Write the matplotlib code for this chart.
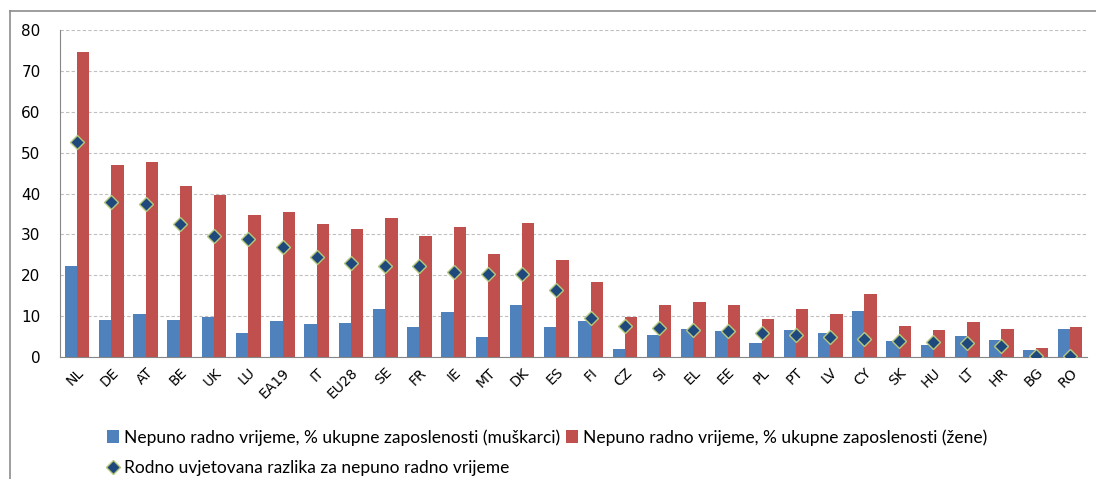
import numpy as np
import matplotlib
matplotlib.use('Agg')
import matplotlib.pyplot as plt
from matplotlib.lines import Line2D

countries = ['NL', 'DE', 'AT', 'BE', 'UK', 'LU', 'EA19', 'IT', 'EU28', 'SE',
             'FR', 'IE', 'MT', 'DK', 'ES', 'FI', 'CZ', 'SI', 'EL', 'EE',
             'PL', 'PT', 'LV', 'CY', 'SK', 'HU', 'LT', 'HR', 'BG', 'RO']

# nepuno radno vrijeme, muskarci
men = [22.2, 9.0, 10.4, 9.1, 9.8, 5.9, 8.7, 8.1, 8.2, 11.8,
       7.3, 11.1, 5.0, 12.6, 7.3, 8.9, 2.0, 5.5, 6.8, 6.4,
       3.4, 6.5, 5.9, 11.2, 3.9, 3.0, 5.2, 4.2, 1.6, 6.8]

# nepuno radno vrijeme, zene
women = [74.7, 46.9, 47.8, 41.9, 39.6, 34.7, 35.5, 32.6, 31.3, 34.1,
         29.5, 31.9, 25.3, 32.8, 23.8, 18.3, 9.8, 12.6, 13.4, 12.7,
         9.4, 11.7, 10.5, 15.5, 7.7, 6.7, 8.6, 6.9, 2.1, 7.3]

# rodno uvjetovana razlika
gap = [52.7, 37.9, 37.4, 32.5, 29.7, 28.9, 26.8, 24.5, 23.1, 22.2,
       22.2, 20.9, 20.3, 20.2, 16.5, 9.5, 7.5, 7.1, 6.6, 6.4,
       5.9, 5.3, 4.8, 4.4, 3.8, 3.7, 3.4, 2.6, 0.3, 0.3]

lab_men = 'Nepuno radno vrijeme, % ukupne zaposlenosti (muškarci)'
lab_women = 'Nepuno radno vrijeme, % ukupne zaposlenosti (žene)'
lab_gap = 'Rodno uvjetovana razlika za nepuno radno vrijeme'

fig = plt.figure(figsize=(10.96, 4.79), dpi=100)
ax = fig.add_axes([60/1096, 1 - 357/479, 1027/1096, 327/479])

x = np.arange(len(countries))
w = 0.36
b1 = ax.bar(x - w/2, men, w, color='#4F81BD', label=lab_men, zorder=2)
b2 = ax.bar(x + w/2, women, w, color='#C0504D', label=lab_women, zorder=2)
d, = ax.plot(x, gap, linestyle='none', marker='D', markersize=7,
             markerfacecolor='#1F497D', markeredgecolor='#B5C77A',
             markeredgewidth=1.0, label=lab_gap, zorder=3)

ax.set_xlim(-0.5, len(countries) - 0.5)
ax.set_ylim(0, 80)
ax.set_yticks(range(0, 81, 10))
ax.set_xticks(x)
ax.set_xticklabels(countries, rotation=45, ha='right', rotation_mode='anchor',
                   fontsize=10)
ax.tick_params(axis='y', length=0, pad=14, labelsize=11)
ax.tick_params(axis='x', length=0, pad=6)
ax.yaxis.grid(True, linestyle=(0, (3, 2)), color='#BFBFBF', linewidth=0.8, zorder=0)
ax.set_axisbelow(True)
for s in ['top', 'right']:
    ax.spines[s].set_visible(False)
ax.spines['left'].set_color('#868686')
ax.spines['bottom'].set_color('#868686')

# okvir oko grafikona
fig.add_artist(Line2D([10/1096, 10/1096], [0, 1 - 11/479], color='#8C8C8C', lw=1.2))
fig.add_artist(Line2D([10/1096, 1], [1 - 11/479, 1 - 11/479], color='#8C8C8C', lw=1.2))

leg = fig.legend([b1, d, b2], [lab_men, lab_gap, lab_women], ncol=2,
                 loc='upper left', bbox_to_anchor=(100/1096, 1 - 422/479),
                 frameon=False, handlelength=0.7, handletextpad=0.3,
                 columnspacing=0.3, labelspacing=0.85, borderaxespad=0,
                 prop={'family': ['Lato', 'DejaVu Sans'], 'size': 12.5})

fig.savefig('out.png', dpi=100)
